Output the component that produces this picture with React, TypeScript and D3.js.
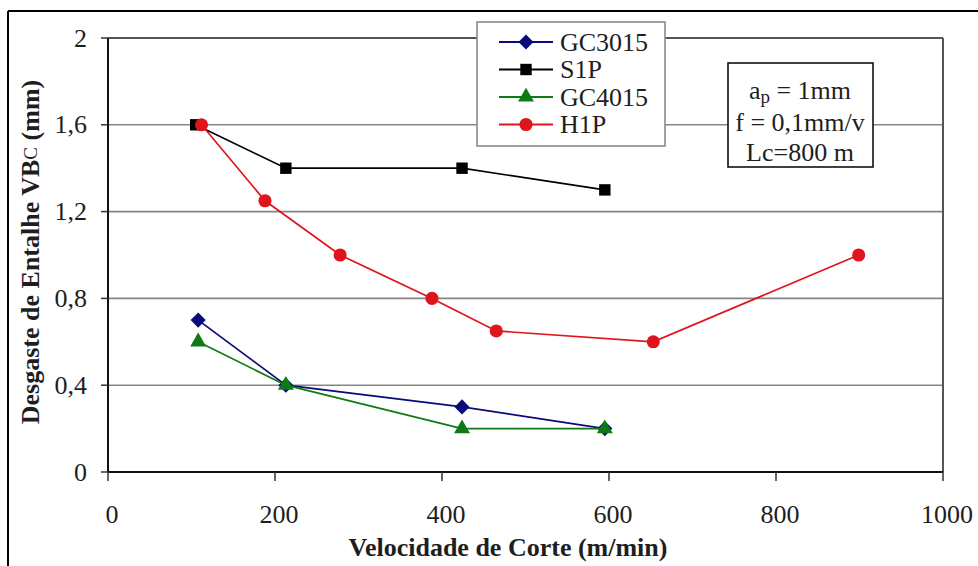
import React from "react";
import * as d3 from "d3";

const xTicks = [0, 200, 400, 600, 800, 1000];
const yTicks = [0, 0.4, 0.8, 1.2, 1.6, 2];
const yTickLabels = ["0", "0,4", "0,8", "1,2", "1,6", "2"];

const gc3015X = [108, 213, 424, 595];
const gc3015Y = [0.7, 0.4, 0.3, 0.2];
const s1pX = [105, 213, 424, 595];
const s1pY = [1.6, 1.4, 1.4, 1.3];
const gc4015X = [108, 213, 424, 595];
const gc4015Y = [0.6, 0.4, 0.2, 0.2];
const h1pX = [112, 188, 278, 388, 465, 653, 899];
const h1pY = [1.6, 1.25, 1.0, 0.8, 0.65, 0.6, 1.0];

const seriesNames = ["GC3015", "S1P", "GC4015", "H1P"];

const W = 978;
const H = 566;
const FONT = "'Liberation Serif', 'Times New Roman', serif";
const TXT = "#1e1e1e";

const series = [
  { name: seriesNames[0], xs: gc3015X, ys: gc3015Y, color: "#0a0a7a", symbol: d3.symbolDiamond2, size: 145 },
  { name: seriesNames[1], xs: s1pX, ys: s1pY, color: "#000000", symbol: d3.symbolSquare, size: 130 },
  { name: seriesNames[2], xs: gc4015X, ys: gc4015Y, color: "#0d7a16", symbol: d3.symbolTriangle, size: 110 },
  { name: seriesNames[3], xs: h1pX, ys: h1pY, color: "#e0141c", symbol: d3.symbolCircle, size: 135 },
];

export default function App() {
  const left = 108, right = 943, top = 38, bottom = 472;
  const x = d3.scaleLinear().domain([0, 1000]).range([left, right]);
  const y = d3.scaleLinear().domain([0, 2]).range([bottom, top]);
  const line = d3.line<[number, number]>().x((d) => x(d[0])).y((d) => y(d[1]));

  const legX = 477, legY = 22, legW = 188, legH = 124;
  const legRows = [42, 69.5, 97, 124.5];

  return (
    <svg width={W} height={H} style={{ position: "absolute", left: 0, top: 0, background: "#fff" }}>
      <rect x={0} y={0} width={W} height={H} fill="#fff" />
      {/* outer frame */}
      <line x1={8} y1={11} x2={W} y2={11} stroke="#000" strokeWidth={2} />
      <line x1={8} y1={11} x2={8} y2={H} stroke="#000" strokeWidth={2} />

      {/* gridlines */}
      {yTicks.filter((t) => t > 0 && t < 2).map((t) => (
        <line key={"g" + t} x1={left} x2={right} y1={y(t)} y2={y(t)} stroke="#858585" strokeWidth={1.6} />
      ))}

      {/* plot frame */}
      <line x1={left} x2={right} y1={top} y2={top} stroke="#555" strokeWidth={2} />
      <line x1={right} x2={right} y1={top} y2={bottom} stroke="#555" strokeWidth={2} />
      <line x1={left} x2={left} y1={top} y2={bottom} stroke="#111" strokeWidth={2} />
      <line x1={left} x2={right} y1={bottom} y2={bottom} stroke="#111" strokeWidth={2} />

      {/* y ticks */}
      {yTicks.map((t, i) => (
        <g key={"yt" + t}>
          <line x1={left - 7} x2={left} y1={y(t)} y2={y(t)} stroke="#333" strokeWidth={1.5} />
          <text x={left - 21} y={y(t)} textAnchor="end" dominantBaseline="central" fontFamily={FONT} fontSize={26} fill={TXT}>
            {yTickLabels[i]}
          </text>
        </g>
      ))}
      {/* x ticks */}
      {xTicks.map((t) => (
        <g key={"xt" + t}>
          <line x1={x(t)} x2={x(t)} y1={bottom} y2={bottom + 9} stroke="#333" strokeWidth={1.5} />
          <text x={x(t) + 4} y={514} textAnchor="middle" dominantBaseline="central" fontFamily={FONT} fontSize={26} fill={TXT}>
            {t}
          </text>
        </g>
      ))}

      {/* axis titles */}
      <text x={508} y={547} textAnchor="middle" dominantBaseline="central" fontFamily={FONT} fontSize={26} fontWeight="bold" fill={TXT}>
        Velocidade de Corte (m/min)
      </text>
      <text transform={`translate(30,252) rotate(-90)`} textAnchor="middle" dominantBaseline="central" fontFamily={FONT} fontSize={26} fontWeight="bold" fill={TXT}>
        Desgaste de Entalhe VB<tspan fontSize={19} fontWeight="normal">C</tspan> (mm)
      </text>

      {/* series */}
      {series.map((s) => {
        const pts: [number, number][] = s.xs.map((v, i) => [v, s.ys[i]]);
        const sym = d3.symbol().type(s.symbol).size(s.size)();
        return (
          <g key={s.name}>
            <path d={line(pts) || ""} fill="none" stroke={s.color} strokeWidth={1.7} />
            {pts.map((p, i) => (
              <path key={i} d={sym || ""} transform={`translate(${x(p[0])},${y(p[1])})`} fill={s.color} />
            ))}
          </g>
        );
      })}

      {/* legend */}
      <rect x={legX} y={legY} width={legW} height={legH} fill="#fff" stroke="#8a8a8a" strokeWidth={1.6} />
      {series.map((s, i) => {
        const sym = d3.symbol().type(s.symbol).size(s.size)();
        const cy = legRows[i];
        return (
          <g key={"lg" + s.name}>
            <line x1={499} x2={553} y1={cy} y2={cy} stroke={s.color} strokeWidth={1.8} />
            <path d={sym || ""} transform={`translate(526,${cy})`} fill={s.color} />
            <text x={560} y={cy} dominantBaseline="central" fontFamily={FONT} fontSize={26} fill={TXT}>
              {s.name}
            </text>
          </g>
        );
      })}

      {/* annotation */}
      <rect x={728} y={63} width={145} height={104} fill="#fff" stroke="#111" strokeWidth={1.6} />
      <text x={800} y={90} textAnchor="middle" dominantBaseline="central" fontFamily={FONT} fontSize={26} fill={TXT}>
        a<tspan fontSize={19} dy={6}>p</tspan><tspan dy={-6}> = 1mm</tspan>
      </text>
      <text x={800} y={122} textAnchor="middle" dominantBaseline="central" fontFamily={FONT} fontSize={26} fill={TXT}>
        f = 0,1mm/v
      </text>
      <text x={800} y={152} textAnchor="middle" dominantBaseline="central" fontFamily={FONT} fontSize={26} fill={TXT}>
        Lc=800 m
      </text>
    </svg>
  );
}
